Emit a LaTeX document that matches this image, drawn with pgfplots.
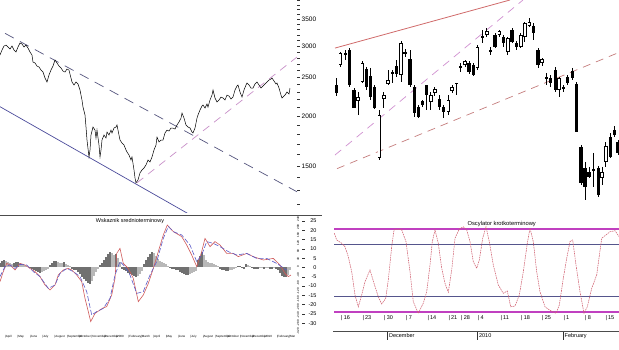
\documentclass[border=0pt]{standalone}
\usepackage{fontspec}
\setmainfont{Liberation Sans}
\usepackage{pgfplots}
\pgfplotsset{compat=1.18}
\definecolor{tlblue}{HTML}{4A4A9A}
\definecolor{tlnavy}{HTML}{55557E}
\definecolor{tlpink}{HTML}{C890C8}
\definecolor{trred}{HTML}{D06A6A}
\definecolor{trmag}{HTML}{D090D0}
\definecolor{trrose}{HTML}{C47C7C}
\definecolor{histdark}{HTML}{707070}
\definecolor{histlight}{HTML}{B8B8B8}
\definecolor{macdred}{HTML}{D05A5A}
\definecolor{macdblue}{HTML}{5A5AC8}
\definecolor{oscline}{HTML}{D06070}
\definecolor{oscmag}{HTML}{C040C0}
\definecolor{oscblue}{HTML}{55558C}
\begin{document}
\begin{tikzpicture}
\useasboundingbox (0pt,0pt) rectangle (619pt,-349pt);
\pgfplotsset{every axis/.append style={scale only axis, /pgf/number format/assume math mode=true}}

% ---------------- top left: index line chart (log scale) ----------------
\begin{axis}[at={(0pt,0pt)}, anchor=north west, width=297pt, height=213pt,
  xmin=0, xmax=297, ymode=log, ymin=1142, ymax=3916,
  axis x line=none, axis y line*=right, axis line style={draw=none},
  ytick={1500,2000,2500,3000,3500}, yticklabels={1500,2000,2500,3000,3500},
  minor ytick={1200,1300,1400,1600,1700,1800,1900,2100,2200,2300,2400,2600,2700,2800,2900,3100,3200,3300,3400,3600,3700,3800,3900},
  tick align=outside, major tick length=3pt, minor tick length=2.5pt,
  tick style={black!80, line width=0.6pt},
  yticklabel style={font=\fontsize{6.5}{7}\selectfont, inner sep=1.5pt},
  clip=true]
\addplot[tlblue, line width=0.7pt] coordinates {(0,2112) (200,1094)};
\addplot[tlnavy, line width=0.7pt, dash pattern=on 10pt off 7pt] coordinates {(5,3229) (297,1291)};
\addplot[tlpink, line width=0.7pt, dash pattern=on 8pt off 6pt] coordinates {(137,1360) (297,2815)};
\addplot[black, line width=0.5pt] coordinates {
(0,2848) (2,2931) (4,3000) (6,3017) (8,2983) (10,2948) (12,3000) (14,2931) (16,2898) (18,2983)
(20,3053) (22,3035) (24,2983) (26,3017) (28,2965) (30,2898) (32,2848) (33,2735) (35,2719) (37,2672)
(39,2657) (41,2611) (43,2581) (45,2493) (47,2436) (49,2537) (51,2611) (53,2672) (55,2767) (57,2719)
(59,2672) (61,2642) (63,2596) (65,2581) (67,2626) (69,2611) (71,2493) (72,2436) (74,2394) (76,2436)
(78,2408) (80,2326) (82,2195) (83,2108) (85,2013) (86,1878) (87,1742) (89,1579) (90,1644) (91,1793)
(93,1878) (95,1845) (96,1762) (97,1845) (99,1692) (100,1579) (101,1644) (102,1742) (104,1793) (106,1762)
(107,1824) (109,1793) (111,1845) (112,1814) (114,1867) (116,1878) (117,1900) (118,1845) (120,1742) (122,1712)
(124,1692) (126,1644) (127,1625) (129,1597) (131,1552) (132,1579) (134,1465) (135,1399) (136,1360) (138,1383)
(140,1440) (142,1465) (144,1482) (146,1508) (148,1552) (150,1534) (152,1579) (154,1644) (156,1692) (157,1772)
(159,1722) (161,1742) (163,1742) (165,1814) (167,1845) (169,1835) (171,1867) (173,1867) (175,1856) (177,1900)
(179,1933) (181,1978) (182,2036) (184,1978) (186,1900) (188,1878) (190,1867) (192,1824) (193,1814) (195,1867)
(197,1978) (198,2013) (200,2072) (202,2120) (203,2133) (205,2096) (207,2145) (208,2108) (210,2195) (212,2259)
(213,2326) (215,2221) (217,2170) (219,2195) (221,2233) (223,2221) (225,2195) (227,2259) (229,2246) (231,2208)
(233,2233) (235,2326) (237,2380) (238,2394) (240,2299) (242,2233) (244,2326) (246,2394) (247,2422) (249,2394)
(251,2353) (253,2353) (255,2408) (257,2436) (259,2394) (261,2353) (263,2380) (265,2408) (267,2436) (269,2464)
(271,2479) (272,2493) (274,2450) (276,2408) (277,2422) (279,2353) (281,2259) (282,2221) (283,2233) (285,2259)
(287,2299) (289,2273) (290,2353)};
\end{axis}

% ---------------- top right: candlesticks (log scale) ----------------
\begin{axis}[at={(300pt,0pt)}, anchor=north west, width=319pt, height=213pt,
  xmin=300, xmax=619, ymode=log, ymin=1142, ymax=3916,
  hide axis, clip=true, unbounded coords=jump]
\addplot[trred, line width=0.8pt] coordinates {(335,2965) (510,3916)};
\addplot[trmag, line width=0.7pt, dash pattern=on 8pt off 6pt] coordinates {(335,1597) (523,3916)};
\addplot[trrose, line width=0.7pt, dash pattern=on 8pt off 6pt] coordinates {(337,1476) (619,2891)};
% wicks
\addplot[black, line width=0.7pt] coordinates {
(336.7,2493) (336.7,2246) (336.7,nan) (340.3,2898) (340.3,2657) (340.3,nan)
(345.7,2931) (345.7,2767) (345.7,nan) (349.7,2965) (349.7,2366) (349.7,nan)
(354,2353) (354,2096) (354,nan) (358,2299) (358,2013) (358,nan)
(362.3,2751) (362.3,2422) (362.3,nan) (366.3,2657) (366.3,2326) (366.3,nan)
(370.7,2642) (370.7,2195) (370.7,nan) (374.7,2394) (374.7,2084) (374.7,nan)
(379.3,2072) (379.3,1552) (379.3,nan) (383.7,2299) (383.7,2096) (383.7,nan)
(388,2611) (388,2394) (388,nan) (392.3,2611) (392.3,2422) (392.3,nan)
(396.7,2767) (396.7,2507) (396.7,nan) (401,3088) (401,2436) (401,nan)
(405,2948) (405,2815) (405,nan) (410,2931) (410,2366) (410,nan)
(414.3,2394) (414.3,1990) (414.3,nan) (418.3,2133) (418.3,1978) (418.3,nan)
(422.7,2195) (422.7,2108) (422.7,nan) (426.7,2394) (426.7,2072) (426.7,nan)
(430.7,2299) (430.7,2072) (430.7,nan) (434.7,2366) (434.7,2246) (434.7,nan)
(439.7,2259) (439.7,2072) (439.7,nan) (443.7,2133) (443.7,1978) (443.7,nan)
(448.3,2259) (448.3,2013) (448.3,nan) (452,2394) (452,2286) (452,nan)
(456.3,2422) (456.3,2259) (456.3,nan) (460.7,2719) (460.7,2581) (460.7,nan)
(465,2767) (465,2657) (465,nan) (469,2751) (469,2551) (469,nan)
(473.3,2719) (473.3,2522) (473.3,nan) (477.3,3017) (477.3,2611) (477.3,nan)
(482.7,3291) (482.7,3053) (482.7,nan) (486.7,3329) (486.7,3160) (486.7,nan)
(490.7,2983) (490.7,2848) (490.7,nan) (495,3234) (495,2965) (495,nan)
(499.3,3291) (499.3,3160) (499.3,nan) (503.3,3197) (503.3,2983) (503.3,nan)
(507.7,3160) (507.7,2848) (507.7,nan) (512,3329) (512,3053) (512,nan)
(516.7,3088) (516.7,2931) (516.7,nan) (520.7,3234) (520.7,2965) (520.7,nan)
(524.7,3447) (524.7,3070) (524.7,nan) (529.3,3528) (529.3,3349) (529.3,nan)
(533.3,3427) (533.3,3106) (533.3,nan) (538,2965) (538,2642) (538,nan)
(542,2799) (542,2672) (542,nan) (546.7,2566) (546.7,2394) (546.7,nan)
(550.3,2537) (550.3,2366) (550.3,nan) (555.3,2657) (555.3,2299) (555.3,nan)
(559,2507) (559,2233) (559,nan) (563.3,2394) (563.3,2299) (563.3,nan)
(567.7,2537) (567.7,2394) (567.7,nan) (572.3,2642) (572.3,2464) (572.3,nan)
(576.7,2436) (576.7,1824) (576.7,nan) (581,1692) (581,1344) (581,nan)
(585,1534) (585,1232) (585,nan) (589,1491) (589,1399) (589,nan)
(593.3,1616) (593.3,1329) (593.3,nan) (598.3,1499) (598.3,1254) (598.3,nan)
(602,1491) (602,1344) (602,nan) (605.7,1722) (605.7,1491) (605.7,nan)
(610.7,1814) (610.7,1570) (610.7,nan) (614.3,1889) (614.3,1772) (614.3,nan)
(618,1742) (618,1597)};
% black (falling) bodies
\addplot[black, line width=3.4pt] coordinates {
(336.7,2394) (336.7,2286) (336.7,nan) (345.7,2881) (345.7,2848) (345.7,nan)
(349.7,2931) (349.7,2394) (349.7,nan) (354,2326) (354,2096) (354,nan)
(366.3,2626) (366.3,2366) (366.3,nan) (370.7,2522) (370.7,2233) (370.7,nan)
(374.7,2366) (374.7,2096) (374.7,nan) (392.3,2581) (392.3,2551) (392.3,nan)
(396.7,2672) (396.7,2551) (396.7,nan) (405,2898) (405,2864) (405,nan)
(410,2783) (410,2394) (410,nan) (414.3,2366) (414.3,2036) (414.3,nan)
(418.3,2108) (418.3,1990) (418.3,nan) (422.7,2182) (422.7,2133) (422.7,nan)
(426.7,2394) (426.7,2259) (426.7,nan) (439.7,2208) (439.7,2108) (439.7,nan)
(443.7,2108) (443.7,2048) (443.7,nan) (456.3,2422) (456.3,2408) (456.3,nan)
(460.7,2672) (460.7,2642) (460.7,nan) (469,2719) (469,2581) (469,nan)
(473.3,2688) (473.3,2537) (473.3,nan) (482.7,3178) (482.7,3142) (482.7,nan)
(490.7,2931) (490.7,2898) (490.7,nan) (495,3197) (495,2983) (495,nan)
(503.3,3160) (503.3,3053) (503.3,nan) (512,3291) (512,3070) (512,nan)
(516.7,3053) (516.7,2983) (516.7,nan) (533.3,3368) (533.3,3234) (533.3,nan)
(538,2931) (538,2688) (538,nan) (546.7,2507) (546.7,2479) (546.7,nan)
(550.3,2493) (550.3,2422) (550.3,nan) (555.3,2611) (555.3,2326) (555.3,nan)
(563.3,2366) (563.3,2339) (563.3,nan) (567.7,2507) (567.7,2422) (567.7,nan)
(572.3,2596) (572.3,2493) (572.3,nan) (576.7,2408) (576.7,1824) (576.7,nan)
(581,1673) (581,1360) (581,nan) (585,1482) (585,1329) (585,nan)
(589,1448) (589,1407) (589,nan) (593.3,1474) (593.3,1457) (593.3,nan)
(598.3,1482) (598.3,1269) (598.3,nan) (610.7,1772) (610.7,1579) (610.7,nan)
(614.3,1845) (614.3,1793) (614.3,nan) (618,1722) (618,1616)};
% white (rising) bodies: outline
\addplot[black, line width=3.6pt] coordinates {
(340.3,2881) (340.3,2688) (340.3,nan) (358,2233) (358,2182) (358,nan)
(362.3,2719) (362.3,2436) (362.3,nan) (379.3,2013) (379.3,1570) (379.3,nan)
(383.7,2259) (383.7,2208) (383.7,nan) (388,2464) (388,2408) (388,nan)
(401,3053) (401,2537) (401,nan) (430.7,2259) (430.7,2170) (430.7,nan)
(434.7,2339) (434.7,2286) (434.7,nan) (448.3,2195) (448.3,2048) (448.3,nan)
(452,2366) (452,2312) (452,nan) (465,2751) (465,2688) (465,nan)
(477.3,2983) (477.3,2642) (477.3,nan) (486.7,3272) (486.7,3197) (486.7,nan)
(499.3,3272) (499.3,3197) (499.3,nan) (507.7,3142) (507.7,2898) (507.7,nan)
(520.7,3197) (520.7,2983) (520.7,nan) (524.7,3427) (524.7,3160) (524.7,nan)
(529.3,3447) (529.3,3368) (529.3,nan) (542,2783) (542,2719) (542,nan)
(559,2493) (559,2326) (559,nan) (602,1448) (602,1399) (602,nan)
(605.7,1683) (605.7,1534)};
% white (rising) bodies: fill
\addplot[white, line width=2.2pt] coordinates {
(340.3,2864) (340.3,2703) (340.3,nan) (358,2221) (358,2195) (358,nan)
(362.3,2703) (362.3,2450) (362.3,nan) (379.3,2001) (379.3,1579) (379.3,nan)
(383.7,2246) (383.7,2221) (383.7,nan) (388,2450) (388,2422) (388,nan)
(401,3035) (401,2551) (401,nan) (430.7,2246) (430.7,2182) (430.7,nan)
(434.7,2326) (434.7,2299) (434.7,nan) (448.3,2182) (448.3,2060) (448.3,nan)
(452,2353) (452,2326) (452,nan) (465,2735) (465,2703) (465,nan)
(477.3,2965) (477.3,2657) (477.3,nan) (486.7,3253) (486.7,3215) (486.7,nan)
(499.3,3253) (499.3,3215) (499.3,nan) (507.7,3124) (507.7,2914) (507.7,nan)
(520.7,3178) (520.7,3000) (520.7,nan) (524.7,3407) (524.7,3178) (524.7,nan)
(529.3,3427) (529.3,3388) (529.3,nan) (542,2767) (542,2735) (542,nan)
(559,2479) (559,2339) (559,nan) (602,1440) (602,1407) (602,nan)
(605.7,1673) (605.7,1543)};
\end{axis}

% ---------------- bottom left: medium-term indicator ----------------
\begin{axis}[at={(0pt,-215pt)}, anchor=north west, width=296pt, height=118pt,
  xmin=0, xmax=296, ymin=-330, ymax=260,
  axis x line*=bottom, axis y line*=right, axis line style={draw=none},
  major tick length=0pt,
  xtick={5,17.35,29.7,42.05,54.4,66.75,79.1,91.45,103.8,116.15,128.5,140.85,153.2,165.55,177.9,190.25,202.6,214.95,227.3,239.65,252,264.35,276.7,289.05},
  xticklabels={\textbar April,\textbar May,\textbar June,\textbar July,\textbar August,\textbar September,\textbar October,\textbar November,\textbar December,\textbar 2009,\textbar February,\textbar March,\textbar April,\textbar May,\textbar June,\textbar July,\textbar August,\textbar September,\textbar October,\textbar November,\textbar December,\textbar 2010,\textbar February,\textbar Mar},
  xticklabel style={font=\fontsize{3}{4}\selectfont, anchor=west, inner sep=0pt, yshift=-4pt},
  ytick={-320,-280,...,240},
  yticklabel style={font=\fontsize{3}{3.5}\selectfont, rotate=90, anchor=north, inner sep=0.8pt},
  clip=true]
\addplot[ycomb, histdark, line width=1.3pt] coordinates {
(0,20) (2,30) (4,35) (14,20) (16,25) (18,25) (30,-5) (32,-10) (34,-15) (36,-20) (38,-25) (40,-30)
(50,10) (52,20) (54,30) (56,30) (64,25) (72,-10) (74,-15) (76,-15) (78,-25) (80,-35) (82,-50) (84,-60)
(86,-70) (88,-80) (90,-85) (100,10) (102,20) (104,35) (106,50) (108,65) (110,75) (116,65)
(122,-8) (124,-15) (126,-22) (128,-30) (130,-35) (132,-40) (134,-45) (136,-50)
(144,15) (146,35) (148,50) (150,65) (152,75) (170,-5) (172,-10) (174,-10) (176,-15) (178,-15)
(180,-25) (182,-30) (184,-35) (186,-40) (188,-40) (198,35) (200,55) (202,75)
(220,-10) (222,-15) (224,-15) (226,-20) (228,-20) (238,5) (240,5) (242,-5) (244,-10) (246,15)
(252,-5) (254,-10) (256,-10) (258,-10) (264,-10) (270,-10) (272,-10) (276,-10) (278,-15)
(280,-30) (282,-45) (284,-50) (286,-50)};
\addplot[ycomb, histlight, line width=1.3pt] coordinates {
(6,30) (8,25) (10,20) (12,15) (20,20) (22,15) (24,10) (26,5) (42,-25) (44,-20) (46,-15) (48,-10)
(58,25) (60,20) (62,20) (66,15) (68,10) (70,5) (92,-70) (94,-45) (96,-25) (98,-10)
(112,70) (114,60) (118,45) (120,25) (138,-45) (140,-35) (142,-20)
(154,70) (156,55) (158,40) (160,30) (162,25) (164,20) (166,15) (168,5)
(190,-35) (192,-30) (194,-25) (196,-20) (204,60) (206,35) (208,25) (210,20) (212,20) (214,15)
(216,10) (218,5) (230,-15) (232,-15) (234,-10) (236,-5) (248,10) (250,5) (260,-5) (262,-5)
(266,-5) (268,-5) (274,-5) (288,-40) (290,-15)};
\addplot[macdred, line width=0.6pt] coordinates {
(0,-73) (3.3,-23) (6.7,18) (10,10) (15,-15) (20,18) (25,10) (30,-7) (35,-23) (40,-48) (45,-90)
(50,-115) (55,-90) (58.3,-40) (63.3,-15) (68.3,-7) (71.7,-15) (76.7,-40) (81.7,-73) (85,-157)
(88.3,-223) (90.7,-273) (95,-232) (100,-215) (103,-205) (106.7,-198) (111.7,-140) (115,-57) (116.7,68)
(120,93) (123.3,18) (128.3,-7) (133.3,-57) (138.3,-173) (143.3,-140) (148.3,-82) (153.3,-7)
(158.3,77) (163.3,160) (167.3,210) (173.3,177) (181.7,152) (186.7,110) (191.7,60) (196.7,2)
(201.7,77) (205,143) (210,102) (215,127) (220,110) (226.7,68) (233.3,68) (238.3,52) (246.7,68)
(253.3,52) (263.3,35) (273.3,43) (280,10) (285,-32) (288.3,-48) (291,-40)};
\addplot[macdblue, line width=0.6pt, dash pattern=on 5pt off 2pt] coordinates {
(0,-48) (5,2) (10,10) (15,-7) (20,13) (26.7,10) (33.3,-23) (40,-48) (48.3,-107) (55,-90) (60,-32)
(66.7,-7) (73.3,-23) (80,-48) (86.7,-123) (91.7,-240) (96.7,-223) (103.3,-207) (110,-157) (115,-40)
(120,27) (125,2) (130,-40) (136.7,-132) (143.3,-123) (150,-40) (156.7,27) (163.3,143) (168.3,202)
(173.3,177) (181.7,160) (190,110) (196.7,27) (201.7,60) (206.7,127) (213.3,118) (220,102)
(228.3,77) (236.7,60) (246.7,68) (256.7,43) (266.7,43) (276.7,18) (286.7,-15)};
\node[font=\fontsize{5.5}{6}\selectfont, inner sep=0pt] at (rel axis cs:0.439,0.949) {Wskaznik srednioterminowy};
\end{axis}

% ---------------- bottom right: short-term oscillator ----------------
\begin{axis}[at={(302pt,-215pt)}, anchor=north west, width=317pt, height=116.7pt,
  xmin=302, xmax=619, ymin=-34.5, ymax=28.2,
  axis x line*=bottom, axis y line*=left, axis line style={draw=none},
  ytick={-30,-25,...,25},
  tick align=inside, major tick length=3pt,
  ytick style={black!80, line width=0.5pt}, xtick style={draw=none},
  yticklabel style={font=\fontsize{5.5}{6}\selectfont, xshift=18pt},
  xtick={341,362.3,384,406,427.3,448.3,461,477.7,500.3,521,542,563.3,585,605.3},
  xticklabels={\textbar\hspace{1.2pt}16,\textbar\hspace{1.2pt}23,\textbar\hspace{1.2pt}30,\textbar\hspace{1.2pt}7,\textbar\hspace{1.2pt}14,\textbar\hspace{1.2pt}21,\textbar\hspace{1.2pt}28,\textbar\hspace{1.2pt}4,\textbar\hspace{1.2pt}11,\textbar\hspace{1.2pt}18,\textbar\hspace{1.2pt}25,\textbar\hspace{1.2pt}1,\textbar\hspace{1.2pt}8,\textbar\hspace{1.2pt}15},
  xticklabel style={font=\fontsize{5.5}{6}\selectfont, anchor=west, inner sep=0pt, yshift=13.7pt},
  clip=true]
\addplot[oscblue, line width=0.6pt] coordinates {(334,12.4) (619,12.4)};
\addplot[oscblue, line width=0.6pt] coordinates {(334,-15.3) (619,-15.3)};
\addplot[oscmag, line width=1.8pt] coordinates {(334,20.7) (619,20.7)};
\addplot[oscmag, line width=1.8pt] coordinates {(334,-23.7) (619,-23.7)};
\addplot[oscline, line width=0.55pt, dash pattern=on 1.6pt off 0.8pt] coordinates {
(334.3,18.4) (336.7,14.8) (341.7,13.0) (345,11.2) (348.3,5.8) (351.7,-2.3) (355,-14.8) (358.3,-21.1)
(361.7,-14.8) (365,-7.6) (370,-1.3) (374,-8.5) (378.3,-15.7) (381.7,-19.6) (385.7,-16.6) (388.3,-6.7)
(391.7,11.2) (394,20.2) (398.3,20.7) (401.7,20.2) (406,13.9) (410,-2.3) (413.3,-18.4) (418.3,-24.6)
(423.3,-19.2) (426.7,-13.0) (430,1.3) (432.3,13.9) (435,20.2) (438.3,13.0) (441.7,-0.4) (445,-8.5)
(448.3,-13.3) (451.7,-1.3) (455,15.7) (459.3,20.7) (463.3,21.9) (466.7,20.2) (470,13.9) (473.3,3.1)
(476.7,-0.4) (479.3,4.0) (482.7,15.7) (486,21.9) (489.3,13.9) (493.3,1.3) (498.3,-9.4) (503.3,-13.9)
(507.3,-12.6) (510.7,-21.1) (515,-20.7) (519.3,-14.8) (523.3,-2.3) (527.3,13.0) (530,21.1) (533.3,13.9)
(536.7,-2.3) (540,-13.0) (545,-21.1) (549.3,-22.8) (552.7,-23.8) (556,-24.6) (559.3,-20.2) (563.3,-5.8)
(566.7,4.9) (570,13.9) (572.7,14.8) (576,1.3) (580,-13.0) (584,-24.6) (587.3,-21.1) (591.7,-11.2)
(596.7,-4.0) (601.7,15.7) (606,17.5) (610,19.2) (615,19.8) (619,16.6)};
\node[font=\fontsize{5.8}{6}\selectfont, inner sep=0pt] at (rel axis cs:0.63,0.92) {Oscylator krotkoterminowy};
\end{axis}

% month row under the oscillator
\begin{axis}[at={(302pt,-215pt)}, anchor=north west, width=317pt, height=116.7pt,
  xmin=302, xmax=619, ymin=-34.5, ymax=28.2,
  axis x line*=bottom, axis y line=none, axis line style={draw=none},
  xtick={387.7,477.7,563.3}, xticklabels={December,2010,February},
  tick align=outside, major tick length=8pt, xtick style={black!80, line width=0.5pt},
  xticklabel style={font=\fontsize{5.5}{6}\selectfont, anchor=west, inner sep=0pt, xshift=1.2pt, yshift=3.7pt}]
\end{axis}

\draw[black!70, line width=0.7pt] (0pt,-215pt) -- (322pt,-215pt);
\draw[black!70, line width=0.8pt] (333pt,-331.7pt) -- (619pt,-331.7pt);
\end{tikzpicture}
\end{document}
